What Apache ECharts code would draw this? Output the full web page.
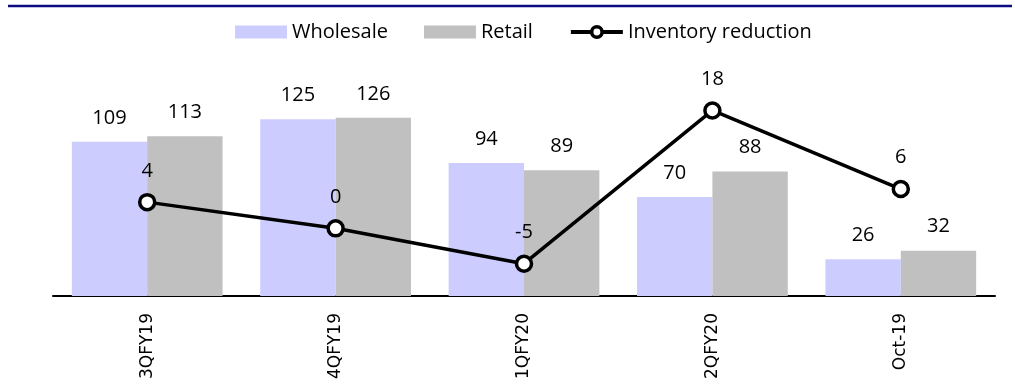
<!DOCTYPE html>
<html>
<head>
<meta charset="utf-8">
<script src="https://cdn.jsdelivr.net/npm/echarts@6/dist/echarts.min.js"></script>
<style>
  html, body { margin: 0; padding: 0; background: #fff; }
  #main { width: 1015px; height: 385px; }
</style>
</head>
<body>
<div id="main"></div>
<script>
// 数据
var categories = ['3QFY19', '4QFY19', '1QFY20', '2QFY20', 'Oct-19']
var wholesale = [109, 125, 94, 70, 26]
var retail = [113, 126, 89, 88, 32]
var inventoryReduction = [4, 0, -5.4, 18, 6]

var chart = echarts.init(document.getElementById('main'))
var labelFont = 'Open Sans'

chart.setOption({
  animation: false,
  legend: {
    left: 230,
    top: 17,
    itemWidth: 52,
    itemHeight: 13,
    itemGap: 36,
    textStyle: { fontFamily: labelFont, fontSize: 20, color: '#000' },
    data: [
      { name: 'Wholesale', icon: 'rect' },
      { name: 'Retail', icon: 'rect' },
      {
        name: 'Inventory reduction',
        lineStyle: { width: 4 },
        itemStyle: { borderWidth: 3.5 }
      }
    ]
  },
  grid: {
    left: 53,
    right: 20,
    top: 98,
    bottom: 89
  },
  xAxis: {
    type: 'category',
    data: categories,
    axisLine: { lineStyle: { color: '#000', width: 2 } },
    axisTick: { show: false },
    axisLabel: {
      rotate: 90,
      margin: 17,
      color: '#000',
      fontFamily: 'DejaVu Sans',
      fontSize: 17
    }
  },
  yAxis: [
    { type: 'value', min: 0, max: 140, show: false, splitLine: { show: false } },
    { type: 'value', min: -10.33, max: 19.9, show: false, splitLine: { show: false } }
  ],
  graphic: [
    {
      type: 'line',
      shape: { x1: 8, y1: 6, x2: 1012, y2: 6 },
      style: { stroke: '#0c0a80', lineWidth: 2.5 }
    }
  ],
  series: [
    {
      name: 'Wholesale',
      type: 'bar',
      data: wholesale,
      barGap: '0%',
      barCategoryGap: '20%',
      itemStyle: { color: '#ccccff' },
      label: {
        show: true,
        position: 'top',
        distance: 14,
        color: '#000',
        fontFamily: labelFont,
        fontSize: 20
      }
    },
    {
      name: 'Retail',
      type: 'bar',
      data: retail,
      barGap: '0%',
      barCategoryGap: '20%',
      itemStyle: { color: '#c0c0c0' },
      label: {
        show: true,
        position: 'top',
        distance: 14,
        color: '#000',
        fontFamily: labelFont,
        fontSize: 20
      }
    },
    {
      name: 'Inventory reduction',
      type: 'line',
      yAxisIndex: 1,
      data: inventoryReduction,
      symbol: 'circle',
      symbolSize: 15,
      lineStyle: { color: '#000', width: 3.5 },
      itemStyle: { color: '#fff', borderColor: '#000', borderWidth: 3.5 },
      label: {
        show: true,
        position: 'top',
        distance: 12,
        color: '#000',
        fontFamily: labelFont,
        fontSize: 20,
        formatter: function (p) {
          return Math.round(p.value)
        }
      }
    }
  ]
})
</script>
</body>
</html>
